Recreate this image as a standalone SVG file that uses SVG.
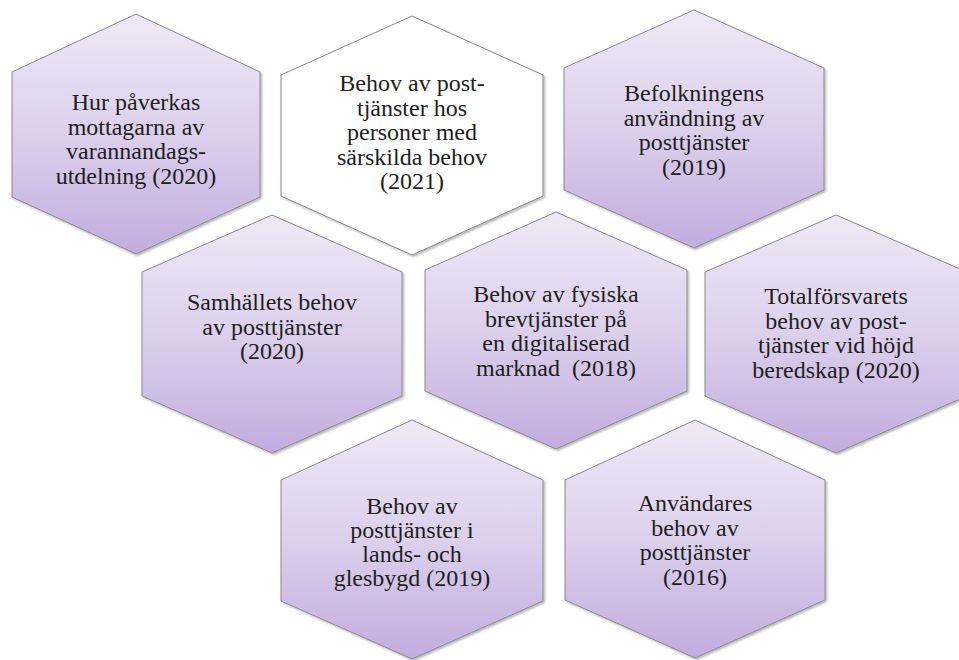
<svg xmlns="http://www.w3.org/2000/svg" width="959" height="660" viewBox="0 0 959 660">
<defs>
<linearGradient id="g" x1="0" y1="0" x2="0" y2="1">
<stop offset="0" stop-color="#eee9f6"/>
<stop offset="0.5" stop-color="#dcd0ec"/>
<stop offset="1" stop-color="#c2acdf"/>
</linearGradient>
<filter id="sh" x="-5%" y="-5%" width="112%" height="112%">
<feDropShadow dx="1.5" dy="1.5" stdDeviation="1.2" flood-color="#000" flood-opacity="0.3"/>
</filter>
</defs>
<style>
.hx{fill:url(#g);stroke:#8a8a8a;stroke-width:1;filter:url(#sh)}
.hw{fill:#fff;stroke:#8a8a8a;stroke-width:1;filter:url(#sh)}
.t{font-family:Liberation Serif, Times New Roman, Times, DejaVu Serif, Noto Serif, serif;font-size:24px;fill:#1e1e1e;text-anchor:middle}
</style>
<rect width="959" height="660" fill="#fff"/>
<g id="connectors"/>
<g id="n1">
<polygon class="hx" points="136,14 260,72 260,197 136,254 12,197 12,72"/>
<text class="t" x="136" y="110">Hur påverkas</text>
<text class="t" x="136" y="134.5">mottagarna av</text>
<text class="t" x="136" y="159">varannandags-</text>
<text class="t" x="136" y="183.5">utdelning (2020)</text>
</g>
<g id="n2">
<polygon class="hw" points="412,16 543,75 543,196 412,255 281,196 281,75"/>
<text class="t" x="412" y="91">Behov av post-</text>
<text class="t" x="412" y="115.5">tjänster hos</text>
<text class="t" x="412" y="140">personer med</text>
<text class="t" x="412" y="164.5">särskilda behov</text>
<text class="t" x="412" y="189">(2021)</text>
</g>
<g id="n3">
<polygon class="hx" points="694,10 824,68 824,190 694,248 564,190 564,68"/>
<text class="t" x="694" y="101">Befolkningens</text>
<text class="t" x="694" y="125.5">användning av</text>
<text class="t" x="694" y="150">posttjänster</text>
<text class="t" x="694" y="174.5">(2019)</text>
</g>
<g id="n4">
<polygon class="hx" points="272,215 402,272 402,396 272,453 142,396 142,272"/>
<text class="t" x="272" y="310">Samhällets behov</text>
<text class="t" x="272" y="334.5">av posttjänster</text>
<text class="t" x="272" y="359">(2020)</text>
</g>
<g id="n5">
<polygon class="hx" points="556,212 687,270 687,391 556,449 425,391 425,270"/>
<text class="t" x="556" y="302">Behov av fysiska</text>
<text class="t" x="556" y="326.5">brevtjänster på</text>
<text class="t" x="556" y="351">en digitaliserad</text>
<text class="t" x="556" y="375.5" xml:space="preserve">marknad  (2018)</text>
</g>
<g id="n6">
<polygon class="hx" points="836,215 967,272 967,396 836,453 705,396 705,272"/>
<text class="t" x="836" y="304">Totalförsvarets</text>
<text class="t" x="836" y="328.5">behov av post-</text>
<text class="t" x="836" y="353">tjänster vid höjd</text>
<text class="t" x="836" y="377.5">beredskap (2020)</text>
</g>
<g id="n7">
<polygon class="hx" points="412,420 543,480 543,601 412,659 281,601 281,480"/>
<text class="t" x="412" y="514">Behov av</text>
<text class="t" x="412" y="538">posttjänster i</text>
<text class="t" x="412" y="562">lands- och</text>
<text class="t" x="412" y="586">glesbygd (2019)</text>
</g>
<g id="n8">
<polygon class="hx" points="695,420 825,480 825,600 695,658 565,600 565,480"/>
<text class="t" x="695" y="511">Användares</text>
<text class="t" x="695" y="535.5">behov av</text>
<text class="t" x="695" y="560">posttjänster</text>
<text class="t" x="695" y="584.5">(2016)</text>
</g>
</svg>
